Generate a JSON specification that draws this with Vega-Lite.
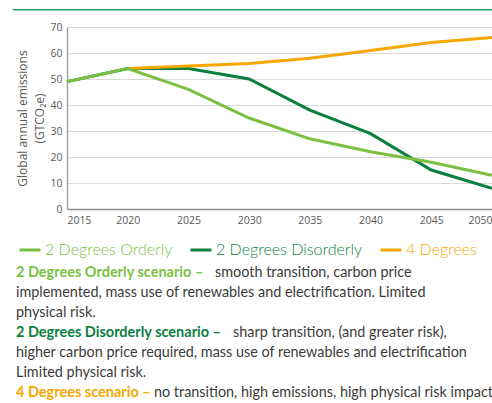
{
  "$schema": "https://vega.github.io/schema/vega-lite/v6.json",
  "padding": {"left": 13, "top": 9, "right": 0, "bottom": 0},
  "spacing": 8,
  "config": {"view": {"stroke": null}, "font": "Lato"},
  "datasets": {
    "emissions": [
      {"year": 2015, "scenario": "2 Degrees Disorderly", "value": 49},
      {"year": 2020, "scenario": "2 Degrees Disorderly", "value": 54},
      {"year": 2025, "scenario": "2 Degrees Disorderly", "value": 54},
      {"year": 2030, "scenario": "2 Degrees Disorderly", "value": 50},
      {"year": 2035, "scenario": "2 Degrees Disorderly", "value": 38},
      {"year": 2040, "scenario": "2 Degrees Disorderly", "value": 29},
      {"year": 2045, "scenario": "2 Degrees Disorderly", "value": 15},
      {"year": 2050, "scenario": "2 Degrees Disorderly", "value": 8},
      {"year": 2020, "scenario": "4 Degrees", "value": 54},
      {"year": 2025, "scenario": "4 Degrees", "value": 55},
      {"year": 2030, "scenario": "4 Degrees", "value": 56},
      {"year": 2035, "scenario": "4 Degrees", "value": 58},
      {"year": 2040, "scenario": "4 Degrees", "value": 61},
      {"year": 2045, "scenario": "4 Degrees", "value": 64},
      {"year": 2050, "scenario": "4 Degrees", "value": 66},
      {"year": 2015, "scenario": "2 Degrees Orderly", "value": 49},
      {"year": 2020, "scenario": "2 Degrees Orderly", "value": 54},
      {"year": 2025, "scenario": "2 Degrees Orderly", "value": 46},
      {"year": 2030, "scenario": "2 Degrees Orderly", "value": 35},
      {"year": 2035, "scenario": "2 Degrees Orderly", "value": 27},
      {"year": 2040, "scenario": "2 Degrees Orderly", "value": 22},
      {"year": 2045, "scenario": "2 Degrees Orderly", "value": 18},
      {"year": 2050, "scenario": "2 Degrees Orderly", "value": 13}
    ],
    "notes": [
      {"line": 1, "scenario": "2 Degrees Orderly", "kind": "head", "start": -51, "text": "2 Degrees Orderly scenario –"},
      {"line": 1, "scenario": "2 Degrees Orderly", "kind": "body", "start": 148, "text": "smooth transition, carbon price"},
      {"line": 2, "scenario": "2 Degrees Orderly", "kind": "body", "start": -51, "text": "implemented, mass use of renewables and electrification. Limited"},
      {"line": 3, "scenario": "2 Degrees Orderly", "kind": "body", "start": -51, "text": "physical risk."},
      {"line": 4, "scenario": "2 Degrees Disorderly", "kind": "head", "start": -51, "text": "2 Degrees Disorderly scenario –"},
      {"line": 4, "scenario": "2 Degrees Disorderly", "kind": "body", "start": 166, "text": "sharp transition, (and greater risk),"},
      {"line": 5, "scenario": "2 Degrees Disorderly", "kind": "body", "start": -51, "text": "higher carbon price required, mass use of renewables and electrification"},
      {"line": 6, "scenario": "2 Degrees Disorderly", "kind": "body", "start": -51, "text": "Limited physical risk."},
      {"line": 7, "scenario": "4 Degrees", "kind": "head", "start": -51, "text": "4 Degrees scenario –"},
      {"line": 7, "scenario": "4 Degrees", "kind": "body", "start": 87, "text": "no transition, high emissions, high physical risk impact"}
    ],
    "header": [{"top": 1, "bottom": 0.7, "lo": -54, "hi": 425}]
  },
  "vconcat": [
    {
      "width": 425,
      "height": 5,
      "data": {"name": "header"},
      "mark": {"type": "rect", "color": "#3a9a6a"},
      "encoding": {
        "x": {"field": "lo", "type": "quantitative", "scale": {"domain": [0, 425], "nice": false, "zero": false}, "axis": null},
        "x2": {"field": "hi"},
        "y": {"field": "top", "type": "quantitative", "scale": {"domain": [0, 1], "nice": false}, "axis": null},
        "y2": {"field": "bottom"}
      }
    },
    {
      "width": 425,
      "height": 182,
      "data": {"name": "emissions"},
      "mark": {"type": "line", "strokeWidth": 3},
      "encoding": {
        "x": {
          "field": "year", "type": "quantitative",
          "scale": {"domain": [2015, 2050], "nice": false, "zero": false},
          "axis": {
            "title": null, "values": [2015, 2020, 2025, 2030, 2035, 2040, 2045, 2050],
            "format": "d", "labelFlush": true, "ticks": false, "grid": false,
            "labelFont": "Open Sans", "labelFontSize": 10.5, "labelColor": "#595959", "labelPadding": 6,
            "domainColor": "#8c8c8c", "domainWidth": 1.5
          }
        },
        "y": {
          "field": "value", "type": "quantitative",
          "scale": {"domain": [0, 70], "nice": false},
          "axis": {
            "title": ["Global annual emissions", "(GTCO₂e)"],
            "titleFont": "Open Sans", "titleFontSize": 12, "titleFontWeight": "normal", "titleColor": "#595959",
            "titleLineHeight": 17, "titlePadding": 3,
            "values": [0, 10, 20, 30, 40, 50, 60, 70], "ticks": false,
            "labelFont": "Open Sans", "labelFontSize": 10.5, "labelColor": "#595959", "labelPadding": 5,
            "gridColor": "#d9d9d9", "gridWidth": 1,
            "domainColor": "#a6a6a6", "domainWidth": 1.5
          }
        },
        "color": {
          "field": "scenario", "type": "nominal",
          "scale": {
            "domain": ["2 Degrees Orderly", "2 Degrees Disorderly", "4 Degrees"],
            "range": ["#7ac143", "#0a7f3f", "#f6a800"]
          },
          "legend": {
            "title": null, "orient": "none", "direction": "horizontal",
            "legendX": -49, "legendY": 229,
            "symbolType": "stroke", "symbolSize": 441, "symbolStrokeWidth": 3,
            "labelFont": "Lato", "labelFontSize": 16, "labelFontWeight": 300,
            "labelOffset": 3, "columnPadding": 11,
            "encode": {"labels": {"update": {"fill": {"scale": "color", "field": "value"}}}}
          }
        }
      }
    },
    {
      "width": 425,
      "height": 159,
      "data": {"name": "notes"},
      "layer": [
        {
          "transform": [{"filter": "datum.kind == 'head'"}],
          "mark": {"type": "text", "align": "left", "baseline": "middle", "font": "Lato", "fontSize": 14.5, "fontWeight": "bold"},
          "encoding": {
            "x": {"field": "start", "type": "quantitative", "scale": {"domain": [0, 425], "nice": false, "zero": false}, "axis": null},
            "y": {"field": "line", "type": "ordinal", "scale": {"type": "point", "range": [39, 159], "padding": 0}, "axis": null},
            "text": {"field": "text"},
            "color": {"field": "scenario", "type": "nominal", "legend": null}
          }
        },
        {
          "transform": [{"filter": "datum.kind == 'body'"}],
          "mark": {"type": "text", "align": "left", "baseline": "middle", "font": "Lato", "fontSize": 14.4, "color": "#3c3c3b"},
          "encoding": {
            "x": {"field": "start", "type": "quantitative", "scale": {"domain": [0, 425], "nice": false, "zero": false}, "axis": null},
            "y": {"field": "line", "type": "ordinal", "scale": {"type": "point", "range": [39, 159], "padding": 0}, "axis": null},
            "text": {"field": "text"}
          }
        }
      ]
    }
  ]
}
